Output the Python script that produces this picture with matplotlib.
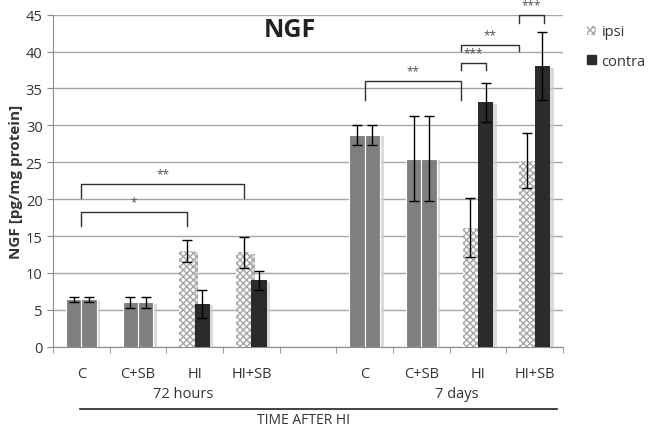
import numpy as np
import matplotlib
matplotlib.use('Agg')
from matplotlib import pyplot as plt
from matplotlib.patches import Patch
import matplotlib.patheffects as pe

plt.rcParams['font.family'] = ['Open Sans', 'DejaVu Sans']

########################## data ##########################
cats = ['C', 'C+SB', 'HI', 'HI+SB', '', 'C', 'C+SB', 'HI', 'HI+SB']
hi_group = [False, False, True, True, False, False, False, True, True]
ipsi = [6.4, 6.0, 13.0, 12.8, np.nan, 28.7, 25.5, 16.1, 25.2]
contra = [6.4, 6.0, 5.8, 9.0, np.nan, 28.7, 25.5, 33.1, 38.0]
ipsi_err = [0.3, 0.8, 1.5, 2.1, np.nan, 1.4, 5.7, 4.0, 3.7]
contra_err = [0.3, 0.8, 1.9, 1.3, np.nan, 1.4, 5.7, 2.7, 4.6]
groups = ['72 hours', '7 days']

# significance brackets: x1, x2, y_low, y_high, label
sig = [
    (0.0, 1.865, 16.4, 18.2, '*'),
    (0.0, 2.865, 20.1, 22.0, '**'),
    (5.0, 6.70, 33.4, 36.0, '**'),
    (6.70, 7.14, 37.5, 38.4, '***'),
    (6.70, 7.72, 40.1, 40.9, '**'),
    (7.72, 8.16, 43.9, 45.0, '***'),
]

########################## plot ##########################
fig = plt.figure(figsize=(6.49, 4.35), dpi=100)
ax = fig.add_axes([0.0817, 0.2007, 0.786, 0.7633])

x = np.arange(len(cats))
w = 0.27
gray = '#7f7f7f'
dark = '#2b2b2b'
shadow = [pe.SimplePatchShadow(offset=(2.5, -1), shadow_rgbFace='0.8', alpha=0.7), pe.Normal()]

for i in range(len(cats)):
    if np.isnan(ipsi[i]):
        continue
    if hi_group[i]:
        ax.bar(x[i] - w / 2, ipsi[i], w, color='white', edgecolor='#a5a5a5', hatch='xxxxx',
               linewidth=0, zorder=3, path_effects=shadow)
        ax.bar(x[i] + w / 2, contra[i], w, color=dark, edgecolor=dark, linewidth=0,
               zorder=3, path_effects=shadow)
    else:
        ax.bar(x[i] - w / 2, ipsi[i], w, color=gray, edgecolor='white', linewidth=0.8,
               zorder=3, path_effects=shadow)
        ax.bar(x[i] + w / 2, contra[i], w, color=gray, edgecolor='white', linewidth=0.8,
               zorder=3, path_effects=shadow)

ax.errorbar(x - w / 2, ipsi, yerr=ipsi_err, fmt='none', ecolor='black', elinewidth=1,
            capsize=3.5, capthick=1, zorder=4)
ax.errorbar(x + w / 2, contra, yerr=contra_err, fmt='none', ecolor='black', elinewidth=1,
            capsize=3.5, capthick=1, zorder=4)

for x1, x2, y1, y2, lab in sig:
    ax.plot([x1, x1, x2, x2], [y1, y2, y2, y1], color='#303030', linewidth=1, zorder=5,
            clip_on=False)
    ax.text((x1 + x2) / 2, y2 + 0.5, lab, ha='center', va='bottom', fontsize=8.5,
            color='#505050', clip_on=False)

ax.set_xlim(-0.5, 8.5)
ax.set_ylim(0, 45)
ax.set_yticks(np.arange(0, 46, 5))
ax.yaxis.grid(True, color='#a6a6a6', linewidth=1, zorder=0)
ax.set_axisbelow(True)
for s in ['top', 'right']:
    ax.spines[s].set_visible(False)
ax.spines['left'].set_color('#8c8c8c')
ax.spines['bottom'].set_color('#8c8c8c')
ax.tick_params(axis='y', colors='#8c8c8c', labelcolor='#333333', labelsize=10.5, length=4)
ax.set_xticks(x)
ax.set_xticklabels(cats, fontsize=10.5, color='#333333')
ax.tick_params(axis='x', length=0, pad=14)
ax.set_xticks(np.arange(-0.5, 9, 1), minor=True)
ax.tick_params(axis='x', which='minor', length=4, colors='#8c8c8c')

ax.set_ylabel('NGF [pg/mg protein]', fontweight='bold', fontsize=11, color='#333333',
              labelpad=2)
ax.text(3.68, 43.0, 'NGF', fontweight='bold', fontsize=18, ha='center', va='center',
        color='#222222')

ax.text(1.79, -6.3, groups[0], ha='center', va='center', fontsize=10.5, color='#333333',
        clip_on=False)
ax.text(6.62, -6.3, groups[1], ha='center', va='center', fontsize=10.5, color='#333333',
        clip_on=False)
ax.plot([-0.02, 8.4], [-8.4, -8.4], color='#222222', linewidth=1.2, clip_on=False)
fig.text(0.467, 0.016, 'TIME AFTER HI', ha='center', va='bottom', fontsize=10,
         color='#333333')

handles = [Patch(facecolor='white', edgecolor='#a5a5a5', hatch='xxxxx', linewidth=0, label='ipsi'),
           Patch(facecolor=dark, edgecolor=dark, label='contra')]
fig.legend(handles=handles, loc='upper left', bbox_to_anchor=(0.884, 0.972), frameon=False,
           fontsize=10.5, handlelength=0.6, handleheight=0.6, handletextpad=0.4,
           labelspacing=1.0, labelcolor='#333333')

plt.savefig('out.png', dpi=100)
